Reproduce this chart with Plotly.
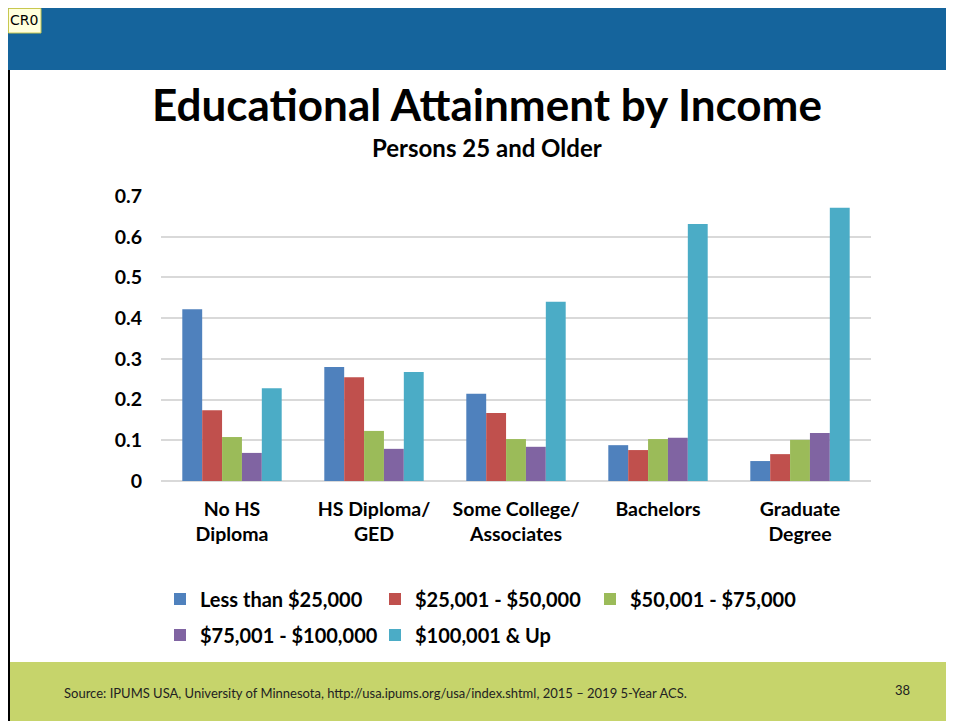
import plotly.graph_objects as go

categories = ["No HS<br>Diploma", "HS Diploma/<br>GED", "Some College/<br>Associates", "Bachelors", "Graduate<br>Degree"]
series_names = ["Less than $25,000", "$25,001 - $50,000", "$50,001 - $75,000", "$75,001 - $100,000", "$100,001 & Up"]
less_25k = [0.422, 0.280, 0.214, 0.088, 0.049]
k25_50 = [0.174, 0.255, 0.167, 0.076, 0.066]
k50_75 = [0.108, 0.123, 0.103, 0.103, 0.101]
k75_100 = [0.069, 0.079, 0.084, 0.106, 0.118]
k100_up = [0.228, 0.268, 0.440, 0.631, 0.671]
y_ticks = [0, 0.1, 0.2, 0.3, 0.4, 0.5, 0.6, 0.7]
y_tick_labels = ["0", "0.1", "0.2", "0.3", "0.4", "0.5", "0.6", "0.7"]

colors = ["#4F81BD", "#C0504D", "#9BBB59", "#8064A2", "#4BACC6"]
values = [less_25k, k25_50, k50_75, k75_100, k100_up]

FONT = "Lato"
OFF = 8  # page body margin
W, H = 954 - OFF, 721 - OFF
# plot area in screen (reference) pixels
SL, SR, ST, SB = 161, 871, 196, 481
L, R, T, B = SL - OFF, SR - OFF, ST - OFF, SB - OFF


def px(x):
    return (x - SL) / (SR - SL)


def py(y):
    return (SB - y) / (SB - ST)


fig = go.Figure()
for i, (name, vals, col) in enumerate(zip(series_names, values, colors)):
    fig.add_trace(go.Bar(
        x=categories, y=vals, name=name, marker_color=col,
        marker_line_width=0,
        legend="legend" if i < 3 else "legend2",
    ))

legend_font = dict(family=FONT, size=20, color="black", weight="bold")
fig.update_layout(
    width=W, height=H,
    margin=dict(l=L, r=W - R, t=T, b=H - B, pad=0),
    paper_bgcolor="white", plot_bgcolor="white",
    barmode="group", bargap=0.3, bargroupgap=0,
    font=dict(family=FONT, color="black"),
    xaxis=dict(
        showgrid=False, showline=False, ticks="",
        tickfont=dict(family=FONT, size=19.5, color="black", weight="bold"),
        ticklabelstandoff=14,
    ),
    yaxis=dict(
        range=[0, 0.7], tickvals=y_ticks, ticktext=y_tick_labels,
        showgrid=True, gridcolor="#D9D9D9", gridwidth=1.5,
        zeroline=True, zerolinecolor="#D9D9D9", zerolinewidth=2,
        showline=False, ticks="",
        tickfont=dict(family=FONT, size=19.5, color="black", weight="bold"),
        ticklabelstandoff=18,
    ),
    legend=dict(
        orientation="h", x=px(160), xanchor="left", y=py(599), yanchor="middle",
        font=legend_font, entrywidth=170, bgcolor="rgba(0,0,0,0)",
    ),
    legend2=dict(
        orientation="h", x=px(160), xanchor="left", y=py(635), yanchor="middle",
        font=legend_font, entrywidth=170, bgcolor="rgba(0,0,0,0)",
    ),
    showlegend=True,
)

shapes = [
    # header bar
    dict(type="rect", xref="paper", yref="paper", x0=px(7), x1=px(960), y0=py(70), y1=py(0),
         fillcolor="#15649C", line_width=0, layer="below"),
    # footer bar
    dict(type="rect", xref="paper", yref="paper", x0=px(9), x1=px(960), y0=py(730), y1=py(662),
         fillcolor="#C6D46B", line_width=0, layer="below"),
    # left border
    dict(type="line", xref="paper", yref="paper", x0=px(9), x1=px(9), y0=py(730), y1=py(70),
         line=dict(color="black", width=2)),
    # CR0 box
    dict(type="rect", xref="paper", yref="paper", x0=px(8.5), x1=px(41), y0=py(33), y1=py(8.5),
         fillcolor="#FFFFDD", line=dict(color="#C8C850", width=1)),
]
fig.update_layout(shapes=shapes)

annotations = [
    dict(text="CR0", x=px(24), y=py(20), xref="paper", yref="paper", showarrow=False,
         font=dict(family="DejaVu Sans", size=14, color="black"), xanchor="center", yanchor="middle"),
    dict(text="<b>Educational Attainment by Income</b>", x=px(487), y=py(104), xref="paper", yref="paper",
         showarrow=False, font=dict(family=FONT, size=44, color="black"), xanchor="center", yanchor="middle"),
    dict(text="<b>Persons 25 and Older</b>", x=px(487), y=py(148), xref="paper", yref="paper",
         showarrow=False, font=dict(family=FONT, size=24, color="black"), xanchor="center", yanchor="middle"),
    dict(text="Source: IPUMS USA, University of Minnesota, http://usa.ipums.org/usa/index.shtml, 2015 \u2013 2019 5-Year ACS.",
         x=px(62), y=py(693), xref="paper", yref="paper", showarrow=False,
         font=dict(family=FONT, size=13, color="#222222"), xanchor="left", yanchor="middle"),
    dict(text="38", x=px(902), y=py(690), xref="paper", yref="paper", showarrow=False,
         font=dict(family=FONT, size=13, color="#222222"), xanchor="center", yanchor="middle"),
]
fig.update_layout(annotations=annotations)

fig.write_html("out.html")
